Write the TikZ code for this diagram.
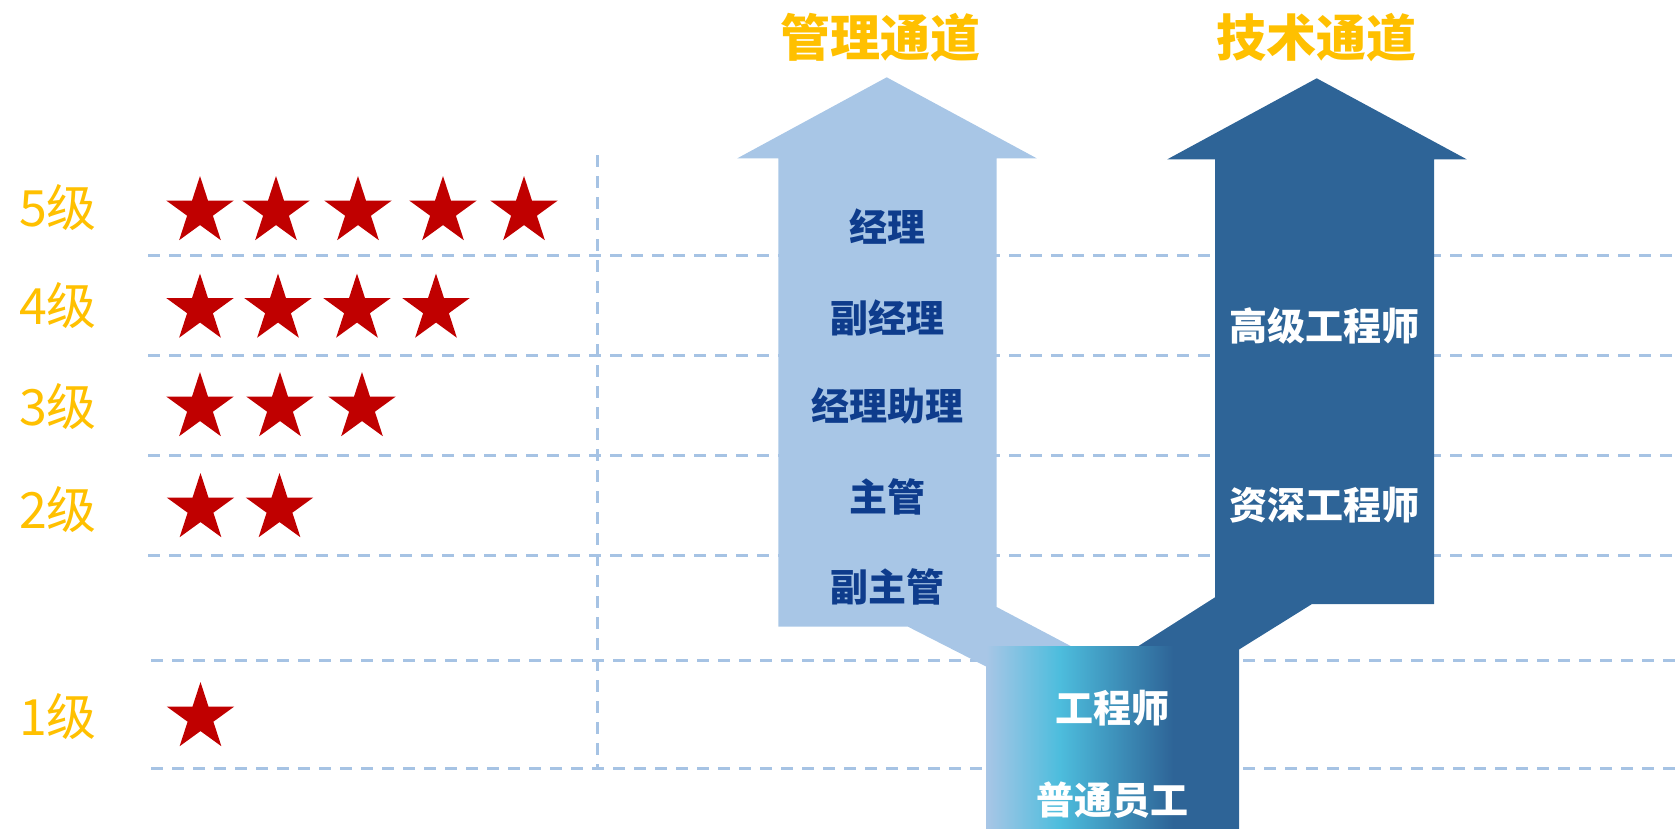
\documentclass[tikz,border=0pt]{standalone}
\usepackage{fontspec}
\usetikzlibrary{shapes.geometric}
\newfontfamily\cjk{Noto Sans CJK SC}
\definecolor{lightA}{HTML}{A8C6E6}
\definecolor{darkA}{HTML}{2E6497}
\definecolor{cyanA}{HTML}{4DBDDD}
\definecolor{gridc}{HTML}{A6C3E4}
\definecolor{titlec}{HTML}{FFC000}
\definecolor{starc}{HTML}{C00000}
\definecolor{navyt}{HTML}{0E3C8C}
\pgfdeclarehorizontalshading{boxgrad}{100bp}{color(0bp)=(lightA); color(25bp)=(lightA); color(39.5bp)=(cyanA); color(62bp)=(darkA); color(100bp)=(darkA)}
\tikzset{
  gridline/.style={draw=gridc, line width=3pt, dash pattern=on 12pt off 9pt},
  starnode/.style={star, star points=5, star point ratio=2.618, fill=starc, draw=none, minimum size=71pt, inner sep=0pt},
  lvl/.style={font=\cjk\fontsize{50}{56}\selectfont, text=titlec, inner sep=0pt},
  ttl/.style={font=\cjk\bfseries\fontsize{50}{56}\selectfont, text=titlec, inner sep=0pt},
  mgr/.style={font=\cjk\bfseries\fontsize{38}{44}\selectfont, text=navyt, inner sep=0pt},
  tec/.style={font=\cjk\bfseries\fontsize{38}{44}\selectfont, text=white, inner sep=0pt}
}
\begin{document}
\begin{tikzpicture}[x=1pt,y=-1pt]
\useasboundingbox (0,0) rectangle (1677,828);
% grid lines
\coordinate (h1a) at (148,255.3); \coordinate (h1b) at (1677,255.3);
\coordinate (h2a) at (148,355.3); \coordinate (h2b) at (1677,355.3);
\coordinate (h3a) at (148,455.3); \coordinate (h3b) at (1677,455.3);
\coordinate (h4a) at (148,555.3); \coordinate (h4b) at (1677,555.3);
\coordinate (h5a) at (151,660); \coordinate (h5b) at (1677,660);
\coordinate (h6a) at (151,768.3); \coordinate (h6b) at (1677,768.3);
\coordinate (va) at (597,155); \coordinate (vb) at (597,768.3);
\foreach \i in {1,...,6} {\draw[gridline] (h\i a) -- (h\i b);}
\draw[gridline] (va) -- (vb);
% management arrow
\fill[lightA] (886.7,77.3) -- (1036.7,158.3) -- (996.7,158.3) -- (996.7,607) -- (1075,648.3) -- (1075,700) -- (990,700) -- (990,668.5) -- (908,626.7) -- (778.3,626.7) -- (778.3,158.3) -- (737.3,158.3) -- cycle;
% technical arrow
\fill[darkA] (1316.7,78.3) -- (1466.7,159.3) -- (1434,159.3) -- (1434,604) -- (1312,604) -- (1235,652) -- (1235,700) -- (1130,700) -- (1130,651.4) -- (1215,597.3) -- (1215,159.3) -- (1167.3,159.3) -- cycle;
% gradient base box
\shade[shading=boxgrad] (986,646.7) rectangle (1239,828);
% titles
\node[ttl] (t1) at (880,38) {管理通道};
\node[ttl] (t2) at (1316,38) {技术通道};
% management labels
\node[mgr] (m5) at (887.7,226.7) {经理};
\node[mgr] (m4) at (887.7,317.6) {副经理};
\node[mgr] (m3) at (887.7,406.4) {经理助理};
\node[mgr] (m2) at (887.7,497.3) {主管};
\node[mgr] (m1) at (887.7,587) {副主管};
% technical labels
\node[tec] (k4) at (1324,326) {高级工程师};
\node[tec] (k2) at (1324,505) {资深工程师};
\node[tec] (b1) at (1112.5,708) {工程师};
\node[tec] (b0) at (1112.5,800) {普通员工};
% level labels
\node[lvl] (l5) at (58,208) {5级};
\node[lvl] (l4) at (58,306) {4级};
\node[lvl] (l3) at (58,407) {3级};
\node[lvl] (l2) at (58,510) {2级};
\node[lvl] (l1) at (58,717) {1级};
% stars
\node[starnode] (s51) at (200,211.5) {};
\node[starnode] (s52) at (276,211.5) {};
\node[starnode] (s53) at (358,211.5) {};
\node[starnode] (s54) at (443,211.5) {};
\node[starnode] (s55) at (524,211.5) {};
\node[starnode] (s41) at (200,309) {};
\node[starnode] (s42) at (278,309) {};
\node[starnode] (s43) at (357,309) {};
\node[starnode] (s44) at (436,309) {};
\node[starnode] (s31) at (200,407.5) {};
\node[starnode] (s32) at (280,407.5) {};
\node[starnode] (s33) at (362,407.5) {};
\node[starnode] (s21) at (200.5,508.5) {};
\node[starnode] (s22) at (279.5,508.5) {};
\node[starnode] (s11) at (200.5,717.5) {};
\end{tikzpicture}
\end{document}
